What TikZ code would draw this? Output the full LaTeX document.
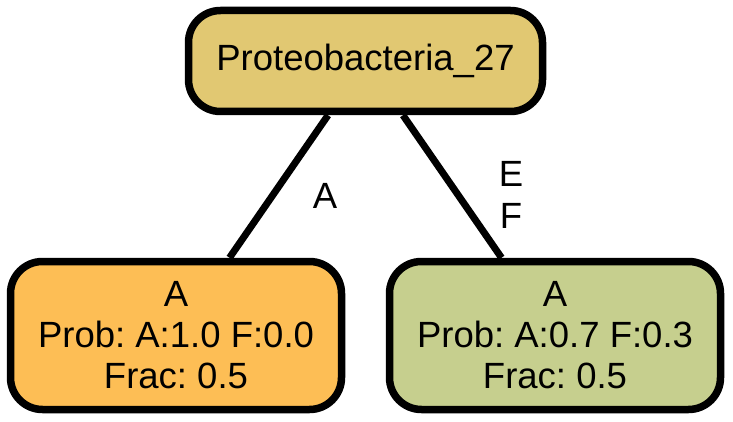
\documentclass[tikz,border=0pt]{standalone}
\usepackage{fontspec}
\setmainfont{Liberation Sans}
\frenchspacing
\begin{document}
\begin{tikzpicture}[x=1pt,y=1pt,
  treenode/.style={draw=black,line width=7.5pt,rounded corners=32pt,align=center,
    inner sep=0pt,font=\fontsize{36.5}{41}\selectfont},
  leafnode/.style={treenode,minimum width=331pt,minimum height=148pt},
  branch/.style={draw=black,line width=7pt},
  edgelabel/.style={align=center,inner sep=0pt,font=\fontsize{36.5}{42}\selectfont}]
\definecolor{rootColor}{RGB}{225,200,114}
\definecolor{leftColor}{RGB}{253,190,85}
\definecolor{rightColor}{RGB}{198,207,142}
\path[use as bounding box,fill=white] (0,0) rectangle (733,421);

\node[treenode,fill=rootColor,minimum width=354pt,minimum height=101pt] (root) at (365.5,360) {Proteobacteria\_27};

\node[leafnode,fill=leftColor] (leafA) at (176,85.5) {A\\Prob: A:1.0 F:0.0\\Frac: 0.5};

\node[leafnode,fill=rightColor] (leafB) at (555,85.5) {A\\Prob: A:0.7 F:0.3\\Frac: 0.5};

\draw[branch] (root) -- (leafA);
\draw[branch] (root) -- (leafB);

\node[edgelabel] (labA) at (325,225) {A};
\node[edgelabel] (labEF) at (511,226) {E\\F};
\end{tikzpicture}
\end{document}
